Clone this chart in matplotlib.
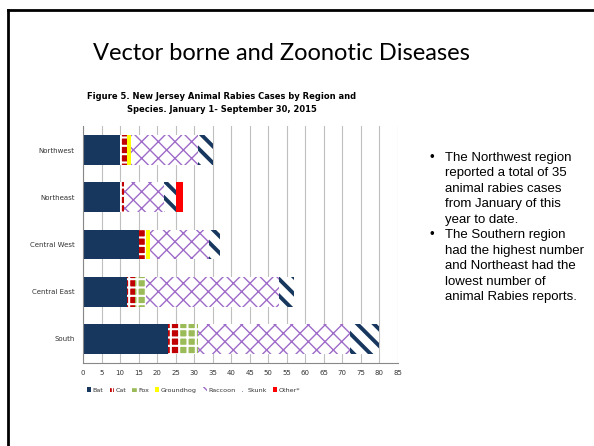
import matplotlib.pyplot as plt
from matplotlib.lines import Line2D
import numpy as np

regions = ['Northwest', 'Northeast', 'Central West', 'Central East', 'South']
species = ['Bat', 'Cat', 'Fox', 'Groundhog', 'Raccoon', 'Skunk', 'Other*']

bat = [10, 10, 15, 12, 23]
cat = [2, 1, 2, 2, 3]
fox = [0, 0, 0, 3, 5]
groundhog = [1, 0, 1, 0, 0]
raccoon = [18, 11, 16, 36, 41]
skunk = [4, 3, 3, 4, 8]
other = [0, 2, 0, 0, 0]

series = [bat, cat, fox, groundhog, raccoon, skunk, other]

# face, hatch colour, hatch, hatch width
styles = [
    ('#17375E', '#17375E', None, 1.0),
    ('#C00000', 'white', '++', 1.5),
    ('#9BBB59', 'white', '++', 1.5),
    ('#FFFF00', '#FFFF00', None, 1.0),
    ('white', '#9E6BC9', 'xx', 1.0),
    ('white', '#17375E', '\\\\', 2.8),
    ('#FF0000', '#FF0000', None, 1.0),
]

fig = plt.figure(figsize=(5.94, 4.46), dpi=100)
ax = fig.add_axes([0.1397, 0.187, 0.530, 0.5296])

y = np.arange(len(regions))
left = np.zeros(len(regions))
handles = []
for name, vals, (fc, hc, hatch, hlw) in zip(species, series, styles):
    bars = ax.barh(y, vals, left=left, height=0.63, color=fc, edgecolor=hc,
                   hatch=hatch, linewidth=0, label=name, zorder=2)
    for b in bars:
        if hasattr(b, 'set_hatch_linewidth'):
            b.set_hatch_linewidth(hlw)
    handles.append(bars)
    left += np.array(vals)

ax.set_ylim(4.5, -0.5)
ax.set_xlim(0, 85)
ax.set_xticks(range(0, 90, 5))
ax.set_yticks(y)
ax.set_yticklabels(regions)
ax.tick_params(axis='both', length=0, labelsize=5, colors='#333333', pad=6)
ax.tick_params(axis='x', pad=5)
ax.xaxis.grid(True, color='#BFBFBF', linewidth=0.8, zorder=0)
ax.set_axisbelow(True)
for s in ['top', 'right']:
    ax.spines[s].set_visible(False)
for s in ['left', 'bottom']:
    ax.spines[s].set_color('#888888')
    ax.spines[s].set_linewidth(0.8)

leg = fig.legend(handles=handles, labels=species, loc='center',
                 bbox_to_anchor=(0.326, 0.126), ncol=7, frameon=False,
                 fontsize=4.6, handlelength=0.7, handleheight=0.7,
                 handletextpad=0.2, columnspacing=0.95)
for t in leg.get_texts():
    t.set_color('#333333')

fig.text(0.373, 0.769, 'Figure 5. New Jersey Animal Rabies Cases by Region and\nSpecies. January 1- September 30, 2015',
         ha='center', va='center', fontsize=6.0, fontweight='bold',
         linespacing=1.6)

fig.text(0.473, 0.881, 'Vector borne and Zoonotic Diseases', ha='center',
         va='center', fontsize=17, family='Lato')

bullets = [
    ['The Northwest region', 'reported a total of 35', 'animal rabies cases',
     'from January of this', 'year to date.'],
    ['The Southern region', 'had the highest number', 'and Northeast had the',
     'lowest number of', 'animal Rabies reports.'],
]
line_y = 157.7
for b in bullets:
    fig.text(430 / 594, 1 - line_y / 446, '\u2022', fontsize=9.5,
             family='Liberation Sans', va='center', ha='left')
    for line in b:
        fig.text(445 / 594, 1 - line_y / 446, line, fontsize=9.5,
                 family='Liberation Sans', va='center', ha='left')
        line_y += 15.5

# slide frame
fig.add_artist(Line2D([8 / 594, 8 / 594], [0, 1 - 10 / 446], color='black',
                      linewidth=2, transform=fig.transFigure))
fig.add_artist(Line2D([8 / 594, 1], [1 - 10 / 446, 1 - 10 / 446], color='black',
                      linewidth=2, transform=fig.transFigure))

fig.savefig('out.png', dpi=100)
